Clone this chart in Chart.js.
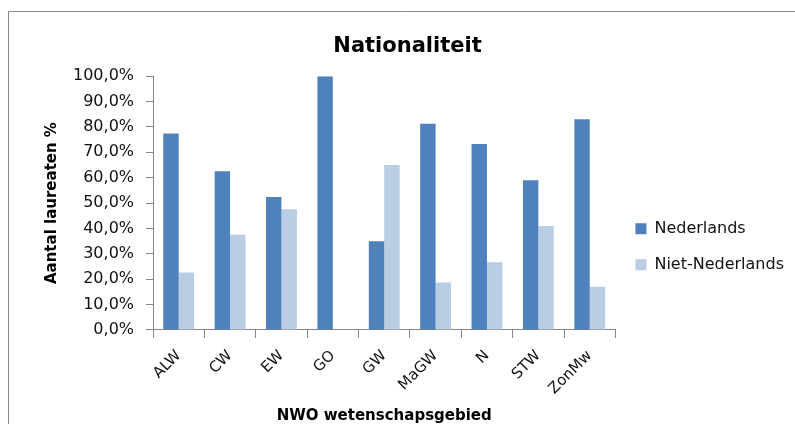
<!DOCTYPE html>
<html>
<head>
<meta charset="utf-8">
<script src="https://cdn.jsdelivr.net/npm/chart.js@4/dist/chart.umd.min.js"></script>
<style>
  html, body { margin: 0; padding: 0; background: #fff; overflow: hidden; }
</style>
</head>
<body>
<canvas id="chart" width="795" height="424"></canvas>
<script>
// NWO domains and share of laureates per nationality (%)
const categories = ['ALW', 'CW', 'EW', 'GO', 'GW', 'MaGW', 'N', 'STW', 'ZonMw'];
const nederlands = [77.4, 62.5, 52.4, 100, 35.0, 81.3, 73.3, 59.0, 83.0];
const nietNederlands = [22.6, 37.5, 47.6, 0, 65.0, 18.7, 26.7, 41.0, 17.0];
const yTicks = [0, 10, 20, 30, 40, 50, 60, 70, 80, 90, 100];

const axisColor = '#868686';

Chart.defaults.font.family = '"DejaVu Sans", sans-serif';
Chart.defaults.color = '#111';

// outer frame of the chart object (only top and left edges are visible)
const framePlugin = {
  id: 'frame',
  beforeDraw(chart) {
    const ctx = chart.ctx;
    ctx.save();
    ctx.strokeStyle = '#8a8a8a';
    ctx.lineWidth = 1;
    ctx.beginPath();
    ctx.moveTo(8.5, chart.height);
    ctx.lineTo(8.5, 11.5);
    ctx.lineTo(chart.width, 11.5);
    ctx.stroke();
    ctx.restore();
  }
};

new Chart(document.getElementById('chart'), {
  type: 'bar',
  data: {
    labels: categories,
    datasets: [
      { label: 'Nederlands', data: nederlands, backgroundColor: '#4f81bd' },
      { label: 'Niet-Nederlands', data: nietNederlands, backgroundColor: '#b9cde5' }
    ]
  },
  plugins: [framePlugin],
  options: {
    responsive: false,
    animation: false,
    layout: { padding: { left: 43, right: 1, top: 24, bottom: -1 } },
    datasets: { bar: { categoryPercentage: 0.6, barPercentage: 1.0 } },
    plugins: {
      title: {
        display: true,
        text: 'Nationaliteit   ',
        color: '#000',
        font: { size: 21, weight: 'bold' },
        padding: { top: 10, bottom: 17 }
      },
      legend: {
        position: 'right',
        title: { display: true, text: ' ', padding: { top: 15, bottom: 15 } },
        labels: {
          boxWidth: 11,
          boxHeight: 11,
          padding: 20,
          color: '#111',
          font: { size: 16 }
        }
      },
      tooltip: { enabled: false }
    },
    scales: {
      x: {
        grid: { drawOnChartArea: false, color: axisColor, tickLength: 8, offset: true },
        border: { color: axisColor, width: 1 },
        ticks: { minRotation: 45, maxRotation: 45, padding: 9, color: '#111', font: { size: 15 } },
        title: {
          display: true,
          text: 'NWO wetenschapsgebied',
          color: '#000',
          font: { size: 15, weight: 'bold' },
          padding: { top: 0, bottom: 0 }
        }
      },
      y: {
        min: 0,
        max: 100,
        afterBuildTicks: axis => { axis.ticks = yTicks.map(v => ({ value: v })); },
        grid: { drawOnChartArea: false, color: axisColor, tickLength: 7 },
        border: { color: axisColor, width: 1 },
        ticks: {
          padding: 12,
          color: '#111',
          font: { size: 16 },
          callback: v => v.toFixed(1).replace('.', ',') + '%'
        },
        title: {
          display: true,
          text: 'Aantal laureaten %',
          color: '#000',
          font: { size: 15, weight: 'bold' },
          padding: { top: 0, bottom: 0 }
        }
      }
    }
  }
});
</script>
</body>
</html>
